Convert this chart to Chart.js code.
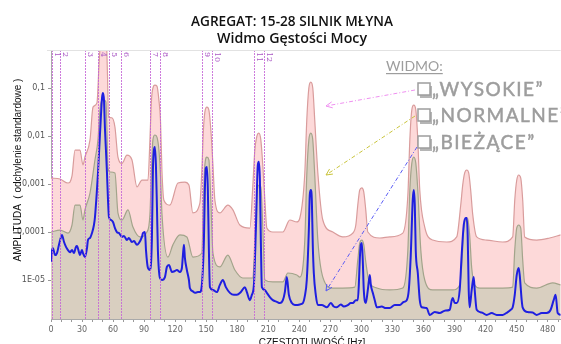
<!DOCTYPE html>
<html>
<head>
<meta charset="utf-8">
<script src="https://cdn.jsdelivr.net/npm/chart.js@4"></script>
<style>
  html, body { margin: 0; padding: 0; background: #fff; }
  #psd { display: block; }
</style>
</head>
<body>
<canvas id="psd" width="561" height="344"></canvas>
<script>
// --- data (Hz / amplitude) ---
const highHz = [0, 8.7, 16.4, 20.3, 23.2, 28, 30.9, 32.8, 37.7, 40.6,
    44.4, 46.4, 47.8, 49.3, 52.2, 53.6, 54.6, 55.5, 58.9, 61.8,
    64.7, 68.6, 73.4, 78.2, 83.1, 87.9, 93.7, 95.6, 97.1, 98.5,
    100.4, 102.4, 104.3, 105.8, 107.2, 109.1, 114.9, 122.7, 129.4, 133.3,
    137.1, 143.9, 145.8, 147.3, 148.7, 150.7, 152.6, 154.5, 156.5, 158.4,
    163.2, 170.9, 175.8, 182.5, 192.2, 195.1, 197, 199, 200.9, 202.8,
    204.8, 206.7, 208.6, 214.4, 224.1, 230.8, 237.6, 240.5, 245.3, 247.2,
    249.2, 251.1, 253, 254.9, 257.9, 262.7, 272.4, 282, 291.7, 294.6,
    296.5, 298.4, 300.4, 302.3, 304.2, 306.2, 317.8, 327.4, 340, 344.9,
    346.8, 348.7, 350.6, 352.6, 354.5, 356.4, 361.2, 368.9, 382.5, 392.1,
    396, 397.9, 399.8, 401.8, 403.7, 405.6, 407.6, 411.4, 421.1, 436.5,
    446.2, 448.2, 450.1, 452, 454, 455.9, 457.8, 469.4, 481.9, 492.6];
const highAmp = [1.33e-3, 1.27e-3, 1.05e-3, 1.47e-3, 5.1e-3, 5.1e-3, 2.5e-3, 3.65e-3, 8.3e-3, 0.040,
    0.049, 0.30, 1.0, 2.05, 2.05, 1.0, 0.187, 0.025, 0.024, 0.0154,
    3.65e-3, 2.7e-3, 4.0e-3, 3.2e-3, 8.7e-4, 1.2e-3, 1.2e-3, 8.3e-3, 0.056, 0.1,
    0.115, 0.11, 0.056, 0.0215, 1.96e-3, 4.6e-4, 3.65e-4, 1.05e-3, 1.1e-3, 9.5e-4,
    2.5e-4, 4.0e-4, 1.96e-3, 0.0133, 0.0316, 0.040, 0.0348, 0.0133, 2.5e-3, 4.6e-4,
    2.5e-4, 3.65e-4, 2.9e-4, 1.4e-4, 1.21e-4, 9.5e-4, 5.1e-3, 0.01, 0.0115, 8.3e-3,
    2.26e-3, 4.6e-4, 1.21e-4, 1.0e-4, 1.0e-4, 1.78e-4, 1.62e-4, 1.96e-4, 1.7e-3, 0.0215,
    0.1, 0.133, 0.1, 0.0215, 1.7e-3, 1.78e-4, 1.0e-4, 7.9e-5, 9.5e-5, 1.4e-4,
    3.65e-4, 7.5e-4, 8.3e-4, 6.8e-4, 2.9e-4, 1.0e-4, 7.5e-5, 7.9e-5, 9.5e-5, 5.9e-4,
    8.3e-3, 0.0348, 0.044, 0.0348, 8.3e-3, 7.5e-4, 1.27e-4, 6.8e-5, 6.2e-5, 7.9e-5,
    3.65e-4, 9.5e-4, 1.7e-3, 1.96e-3, 1.7e-3, 7.5e-4, 2.3e-4, 7.9e-5, 6.8e-5, 6.2e-5,
    7.9e-5, 4.6e-4, 1.2e-3, 1.54e-3, 1.33e-3, 4.6e-4, 7.9e-5, 6.8e-5, 7.5e-5, 8.7e-5];

const normHz = [0, 8.7, 16.4, 20.3, 23.2, 28, 30.9, 32.8, 37.7, 42.5,
    45.4, 47.3, 48.8, 51.2, 53.1, 54.1, 55.1, 57, 61.8, 64.7,
    68.6, 74.4, 79.2, 86, 92.7, 95.6, 97.1, 98.5, 100.4, 102.4,
    104.3, 105.8, 107.2, 113, 117.8, 124.6, 131.3, 137.1, 145.8, 147.3,
    148.7, 150.7, 152.6, 154.5, 156.5, 163.2, 170.9, 177.7, 185.4, 195.1,
    197, 199, 200.9, 202.8, 204.8, 206.7, 214.4, 224.1, 228.9, 237.6,
    240.5, 245.3, 247.2, 249.2, 251.1, 253, 254.9, 257.9, 262.7, 272.4,
    282, 293.6, 296.5, 298.4, 300.4, 302.3, 304.2, 307.1, 314.9, 327.4,
    340, 344.9, 346.8, 348.7, 350.6, 352.6, 354.5, 357.4, 361.2, 368.9,
    388.3, 395, 397, 398.9, 400.8, 402.7, 404.6, 406.6, 409.5, 414.3,
    436.5, 446.2, 448.2, 450.1, 452, 454, 455.9, 457.8, 469.4, 484.8,
    492.6];
const normAmp = [1.0e-4, 1.1e-4, 9.5e-5, 1.4e-4, 3.65e-4, 3.65e-4, 1.78e-4, 2.9e-4, 6.5e-4, 3.2e-3,
    8.3e-3, 0.035, 0.0536, 0.056, 0.051, 0.0133, 2.15e-3, 1.78e-3, 1.7e-3, 2.5e-4,
    1.78e-4, 2.9e-4, 1.27e-4, 7.9e-5, 1.0e-4, 2.3e-4, 1.96e-3, 8.3e-3, 0.0105, 9.5e-3,
    5.1e-3, 1.54e-3, 2.5e-4, 3.0e-5, 5.4e-5, 8.7e-5, 7.9e-5, 3.0e-5, 3.65e-5, 4.6e-4,
    2.5e-3, 3.65e-3, 3.2e-3, 4.6e-4, 3.65e-5, 1.87e-5, 3.3e-5, 1.62e-5, 1.1e-5, 1.1e-5,
    6.8e-5, 5.9e-4, 9.5e-4, 8.7e-4, 1.1e-4, 1.0e-5, 9.1e-6, 9.1e-6, 1.4e-5, 1.27e-5,
    1.15e-5, 6.8e-5, 1.54e-3, 8.3e-3, 0.0115, 8.3e-3, 1.54e-3, 6.8e-5, 1.15e-5, 6.8e-6,
    6.8e-6, 7.1e-6, 2.6e-5, 5.9e-5, 6.8e-5, 5.4e-5, 2.4e-5, 1.0e-5, 6.8e-6, 6.2e-6,
    6.8e-6, 4.2e-5, 7.5e-4, 2.7e-3, 3.65e-3, 2.7e-3, 7.5e-4, 4.2e-5, 1.0e-5, 6.2e-6,
    6.2e-6, 7.9e-6, 2.05e-5, 1.1e-4, 1.87e-4, 1.96e-4, 8.7e-5, 1.78e-5, 7.9e-6, 6.8e-6,
    6.8e-6, 7.1e-6, 4.2e-5, 1.21e-4, 1.4e-4, 1.21e-4, 2.6e-5, 8.7e-6, 6.8e-6, 8.7e-6,
    7.9e-6];

const curHz = [0, 1, 1.9, 3.9, 5.8, 7.7, 10.6, 12.6, 14.5, 16.4, 18.4, 20.3, 22.2, 24.1, 25.1, 27, 28, 29.9, 30.9, 32.8, 34.8, 35.7, 37.7, 39.6, 41.5, 42.5, 44.4, 45.4, 47.3, 48.3, 49.3, 50.2, 51.2, 52.2, 53.1, 54.1, 55.1, 56, 57.9, 59.9, 61.8, 63.7, 65.7, 68.6, 70.5, 73.4, 75.3, 78.2, 80.2, 83.1, 85, 87.9, 88.9, 90.8, 91.8, 93.7, 95.6, 97.5, 98.5, 99.5, 100.4, 101.4, 102.4, 103.3, 105.3, 107.2, 110.1, 112, 114, 116.9, 119.8, 121.7, 124.6, 126.5, 127.5, 128.5, 129.4, 131.3, 133.3, 134.2, 137.1, 139.1, 142, 143.9, 145.8, 147.8, 148.7, 149.7, 150.7, 151.6, 152.6, 153.6, 156.5, 160.3, 163.2, 166.1, 169, 172.9, 176.7, 179.6, 183.5, 187.4, 189.3, 192.2, 194.1, 196.1, 198, 199.9, 200.9, 201.9, 202.8, 203.8, 206.7, 208.6, 211.5, 214.4, 218.3, 221.2, 224.1, 226, 227.9, 229.9, 232.8, 235.7, 237.6, 240.5, 243.4, 245.3, 247.2, 249.2, 250.1, 251.1, 252.1, 253, 254, 255.9, 257.9, 261.7, 266.6, 270.4, 273.3, 276.2, 280.1, 283, 286.8, 289.7, 291.7, 294.6, 296.5, 297.5, 298.4, 299.4, 300.4, 301.3, 302.3, 304.2, 306.2, 308.1, 309.1, 311, 312.9, 314.9, 319.7, 323.5, 327.4, 332.2, 337.1, 340.9, 343.8, 345.8, 347.7, 349.6, 350.6, 351.6, 352.5, 354.5, 356.4, 358.3, 363.1, 366, 370.9, 375.7, 380.5, 385.4, 387.3, 388.3, 390.2, 392.1, 395, 397, 398.9, 400.8, 401.8, 402.7, 403.7, 404.6, 406.6, 408.5, 409.5, 411.4, 416.3, 421.1, 425.9, 430.7, 436.5, 441.4, 444.3, 446.2, 448.2, 450.1, 452, 453, 454.9, 455.8, 460.7, 465.5, 469.4, 474.2, 479, 482.9, 485.8, 487.7, 489.7, 492.6];
const curAmp = [2.4e-5, 4.2e-5, 4.6e-5, 3.3e-5, 3.65e-5, 5.4e-5, 8.7e-5, 6.2e-5, 4.9e-5, 4.2e-5, 3.8e-5, 4.2e-5, 3.65e-5, 4.9e-5, 5.1e-5, 3.8e-5, 3.3e-5, 4.2e-5, 3.65e-5, 3.0e-5, 4.6e-5, 6.8e-5, 7.5e-5, 9.5e-5, 1.4e-4, 2.05e-4, 7.5e-4, 1.7e-3, 0.0105, 0.0274, 0.062, 0.079, 0.056, 0.0133, 5.1e-3, 1.7e-3, 4.6e-4, 2.05e-4, 1.78e-4, 1.62e-4, 1.21e-4, 1.0e-4, 9.5e-5, 7.9e-5, 8.3e-5, 6.8e-5, 7.5e-5, 6.2e-5, 6.5e-5, 5.4e-5, 5.9e-5, 7.9e-5, 9.5e-5, 1.0e-4, 4.2e-5, 1.78e-5, 1.62e-5, 6.8e-5, 1.96e-3, 5.1e-3, 5.9e-3, 2.5e-3, 3.3e-4, 4.2e-5, 1.1e-5, 1.0e-5, 1.15e-5, 1.87e-5, 2.05e-5, 1.47e-5, 1.54e-5, 1.62e-5, 1.47e-5, 1.78e-5, 3.3e-5, 5.4e-5, 2.9e-5, 1.62e-5, 1.0e-5, 6.8e-6, 5.8e-6, 5.4e-6, 5.6e-6, 5.6e-6, 7.9e-6, 6.8e-5, 7.5e-4, 2.15e-3, 2.26e-3, 7.5e-4, 4.2e-5, 7.1e-6, 6.2e-6, 5.6e-6, 7.9e-6, 1.0e-5, 7.1e-6, 5.4e-6, 4.9e-6, 4.9e-6, 5.6e-6, 7.1e-6, 5.6e-6, 3.8e-6, 4.9e-6, 7.9e-6, 1.1e-4, 2.5e-3, 2.9e-3, 1.2e-3, 6.8e-5, 7.1e-6, 6.2e-6, 5.4e-6, 4.4e-6, 3.8e-6, 3.5e-6, 3.3e-6, 3.8e-6, 5.6e-6, 1.15e-5, 4.9e-6, 3.3e-6, 3.0e-6, 3.0e-6, 3.1e-6, 3.3e-6, 4.6e-6, 1.0e-5, 1.1e-4, 5.9e-4, 7.5e-4, 4.6e-4, 5.4e-5, 1.4e-5, 4.9e-6, 3.0e-6, 3.0e-6, 2.7e-6, 3.3e-6, 2.8e-6, 2.7e-6, 3.1e-6, 2.8e-6, 3.0e-6, 3.3e-6, 3.3e-6, 3.8e-6, 3.8e-6, 7.9e-6, 2.6e-5, 5.4e-5, 5.9e-5, 2.6e-5, 6.2e-6, 3.3e-6, 6.2e-6, 1.27e-5, 7.9e-6, 5.4e-6, 3.8e-6, 2.7e-6, 2.8e-6, 2.6e-6, 2.6e-6, 3.0e-6, 3.0e-6, 3.5e-6, 3.8e-6, 6.2e-6, 3.3e-5, 4.6e-4, 7.5e-4, 3.65e-4, 4.2e-5, 1.4e-5, 3.8e-6, 2.7e-6, 2.6e-6, 1.87e-6, 2.15e-6, 2.05e-6, 2.3e-6, 2.4e-6, 3.8e-6, 4.2e-6, 3.3e-6, 3.3e-6, 6.2e-6, 3.65e-5, 1.4e-4, 1.96e-4, 1.96e-4, 8.7e-5, 6.2e-6, 2.7e-6, 6.2e-6, 1.15e-5, 6.2e-6, 2.4e-6, 2.1e-6, 1.87e-6, 2.05e-6, 1.87e-6, 1.87e-6, 2.15e-6, 2.4e-6, 2.7e-6, 4.9e-6, 1.27e-5, 1.78e-5, 1.27e-5, 3.8e-6, 2.7e-6, 2.15e-6, 2.1e-6, 1.87e-6, 2.05e-6, 2.05e-6, 2.4e-6, 3.8e-6, 4.9e-6, 2.05e-6, 1.87e-6];

// numbered marker lines at the top
const markerHz = [1, 8.7, 32.8, 45.7, 56, 67.6, 95.6, 105.8, 145.5, 155.8, 196.3, 206];
const markerLabels = ['1', '2', '3', '4', '5', '6', '7', '8', '9', '10', '11', '12'];

// axis ticks
const yTicks = [1e-5, 1e-4, 1e-3, 1e-2, 1e-1];
const yTickLabels = ['1E-05', '0,0001', '0,001', '0,01', '0,1'];
const xLabelStep = 30;

const title1 = 'AGREGAT: 15-28 SILNIK MŁYNA';
const title2 = 'Widmo Gęstości Mocy';
const yTitle = 'AMPLITUDA  ( odchylenie standardowe )';
const xTitle = 'CZĘSTOTLIWOŚĆ [Hz]';
const legendHead = 'WIDMO:';
const legendItems = ['„WYSOKIE”', '„NORMALNE”', '„BIEŻĄCE”'];

function pts(xs, ys) {
    return xs.map((x, i) => ({ x: x, y: ys[i] }));
}

// arrow with dash-dot line and an open head
function arrow(ctx, x1, y1, x2, y2, color) {
    ctx.save();
    ctx.strokeStyle = color;
    ctx.lineWidth = 1;
    ctx.setLineDash([4, 2, 1, 2]);
    ctx.beginPath();
    ctx.moveTo(x1, y1);
    ctx.lineTo(x2, y2);
    ctx.stroke();
    ctx.setLineDash([]);
    let a = Math.atan2(y2 - y1, x2 - x1);
    let L = 7;
    ctx.beginPath();
    ctx.moveTo(x2 - L * Math.cos(a - 0.45), y2 - L * Math.sin(a - 0.45));
    ctx.lineTo(x2, y2);
    ctx.lineTo(x2 - L * Math.cos(a + 0.45), y2 - L * Math.sin(a + 0.45));
    ctx.stroke();
    ctx.restore();
}

// title text is a bit narrower than Open Sans: squeeze to the seen width
function squeezedText(ctx, txt, cx, y, width) {
    let w = ctx.measureText(txt).width;
    ctx.save();
    ctx.translate(cx, y);
    ctx.scale(width / w, 1);
    ctx.fillText(txt, 0, 0);
    ctx.restore();
}

const overlay = {
    id: 'overlay',
    afterDatasetsDraw(chart) {
        const ctx = chart.ctx;
        const xs = chart.scales.x;
        const area = chart.chartArea;
        ctx.save();
        // dotted marker lines
        ctx.strokeStyle = 'rgba(196, 100, 214, 0.85)';
        ctx.lineWidth = 1;
        ctx.setLineDash([2, 1]);
        markerHz.forEach(hz => {
            let px = Math.round(xs.getPixelForValue(hz)) + 0.5;
            ctx.beginPath();
            ctx.moveTo(px, area.top);
            ctx.lineTo(px, area.bottom);
            ctx.stroke();
        });
        ctx.setLineDash([]);
        ctx.fillStyle = '#a957c4';
        ctx.font = '8px "DejaVu Serif"';
        ctx.textAlign = 'left';
        ctx.textBaseline = 'bottom';
        markerHz.forEach((hz, i) => {
            let px = Math.round(xs.getPixelForValue(hz)) + 1;
            ctx.save();
            ctx.translate(px, area.top + 2);
            ctx.rotate(Math.PI / 2);
            ctx.fillText(markerLabels[i], 0, 0);
            ctx.restore();
        });
        ctx.restore();
    },
    afterDraw(chart) {
        const ctx = chart.ctx;
        const area = chart.chartArea;
        ctx.save();
        // top frame line
        ctx.strokeStyle = '#e2e2e2';
        ctx.lineWidth = 1;
        ctx.beginPath();
        ctx.moveTo(area.left - 4, area.top + 0.5);
        ctx.lineTo(area.right, area.top + 0.5);
        ctx.stroke();

        // titles
        ctx.fillStyle = '#111';
        ctx.textAlign = 'center';
        ctx.textBaseline = 'alphabetic';
        ctx.font = '600 15px "Open Sans"';
        squeezedText(ctx, title1, 292, 26, 202);
        squeezedText(ctx, title2, 292, 43, 150);

        // axis titles
        ctx.font = '10px "Liberation Sans"';
        ctx.fillText(xTitle, 312, 346);
        ctx.save();
        ctx.translate(21, 170);
        ctx.rotate(-Math.PI / 2);
        ctx.fillText(yTitle, 0, 0);
        ctx.restore();

        // arrows to the three spectra
        arrow(ctx, 415, 90, 326, 106, '#ef8ff0');
        arrow(ctx, 415, 116, 326, 175, '#c9c43c');
        arrow(ctx, 417, 147, 326, 291, '#5a5cf5');

        // legend text
        ctx.fillStyle = '#9d9d9d';
        ctx.strokeStyle = '#9d9d9d';
        ctx.textAlign = 'left';
        ctx.font = '14px Lato';
        ctx.fillText(legendHead, 386, 71);
        let w = ctx.measureText(legendHead).width;
        ctx.fillRect(386, 73, w, 1.2);
        ctx.font = '19px Lato';
        ctx.letterSpacing = '1.5px';
        const baselines = [96, 122, 149];
        legendItems.forEach((t, i) => {
            let by = baselines[i];
            // box with shadow
            ctx.fillStyle = '#b5b5b5';
            ctx.fillRect(420, by - 10, 12, 12);
            ctx.fillStyle = '#fff';
            ctx.fillRect(418, by - 13, 12, 12);
            ctx.lineWidth = 1.5;
            ctx.strokeRect(418, by - 13, 12, 12);
            ctx.fillStyle = '#9d9d9d';
            ctx.fillText(t, 432, by);
            ctx.lineWidth = 0.5;
            ctx.strokeText(t, 432, by);
        });
        ctx.restore();
    }
};

Chart.defaults.font.family = 'Tahoma, "DejaVu Sans", sans-serif';
Chart.defaults.color = '#555';

let psd = new Chart(document.getElementById('psd').getContext('2d'), {
    type: 'line',
    data: {
        datasets: [
            {
                label: 'WYSOKIE',
                data: pts(highHz, highAmp),
                borderColor: '#d99c9c',
                backgroundColor: '#fdd9d9',
                borderWidth: 1.2,
                fill: 'start',
                order: 3
            },
            {
                label: 'NORMALNE',
                data: pts(normHz, normAmp),
                borderColor: '#a3a48b',
                backgroundColor: '#d9cfc0',
                borderWidth: 1.2,
                fill: 'start',
                order: 2
            },
            {
                label: 'BIEŻĄCE',
                data: pts(curHz, curAmp),
                borderColor: '#1f1fe0',
                borderWidth: 2,
                fill: false,
                order: 1
            }
        ]
    },
    options: {
        responsive: false,
        animation: false,
        devicePixelRatio: 1,
        parsing: false,
        elements: {
            point: { radius: 0 },
            line: { cubicInterpolationMode: 'monotone' }
        },
        layout: { padding: { top: 50, left: 0, right: 0, bottom: 0 } },
        plugins: {
            legend: { display: false },
            title: { display: false },
            tooltip: { enabled: false }
        },
        scales: {
            x: {
                type: 'linear',
                min: 0,
                max: 492.6,
                afterBuildTicks(scale) {
                    let t = [];
                    for (let v = 0; v <= 490; v += 10) t.push({ value: v });
                    scale.ticks = t;
                },
                afterFit(scale) { scale.height = 25; },
                grid: { drawOnChartArea: false, tickLength: 3, color: '#999' },
                border: { color: '#aaa' },
                ticks: {
                    autoSkip: false,
                    maxRotation: 0,
                    padding: 3,
                    font: { size: 8 },
                    color: '#666',
                    callback: v => (v % xLabelStep === 0 ? String(v) : '')
                }
            },
            y: {
                type: 'logarithmic',
                min: 1.54e-6,
                max: 0.62,
                afterBuildTicks(scale) {
                    scale.ticks = yTicks.map(v => ({ value: v }));
                },
                afterFit(scale) { scale.width = 51; },
                grid: { drawOnChartArea: false, tickLength: 3, color: '#999' },
                border: { color: '#aaa' },
                ticks: {
                    padding: 3,
                    font: { size: 8 },
                    color: '#555',
                    callback: function (v) {
                        let i = yTicks.findIndex(t => Math.abs(Math.log10(t) - Math.log10(v)) < 1e-6);
                        return i >= 0 ? yTickLabels[i] : '';
                    }
                }
            }
        }
    },
    plugins: [overlay]
});
</script>
</body>
</html>
